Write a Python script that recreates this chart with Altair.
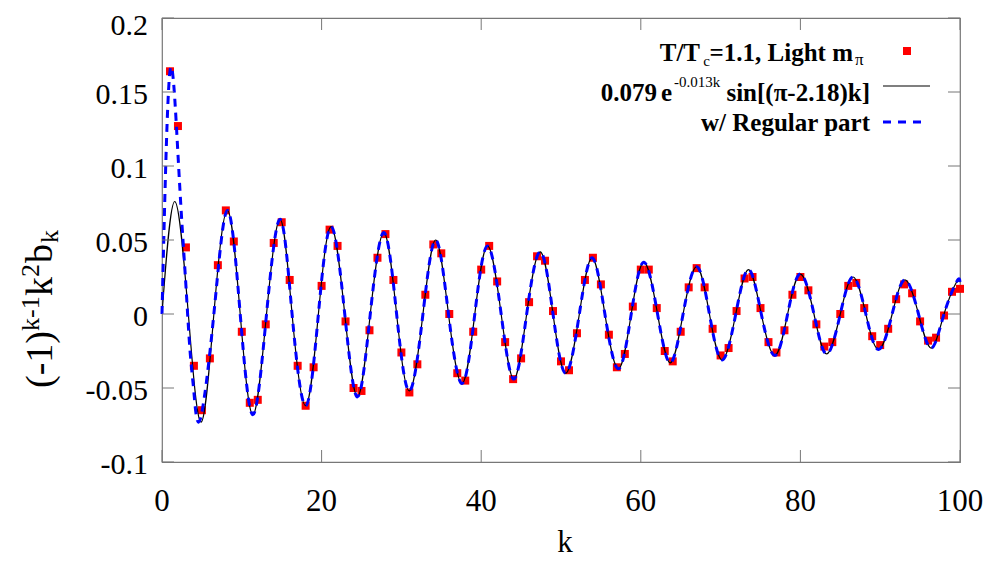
import altair as alt
import pandas as pd

# ---------------- data ----------------
red_k = list(range(1, 101))
red_v = [0.164, 0.127, 0.045, -0.035, -0.065, -0.030, 0.033, 0.070, 0.049, -0.012,
         -0.060, -0.058, -0.007, 0.048, 0.062, 0.023, -0.035, -0.062, -0.036, 0.019,
         0.057, 0.046, -0.005, -0.050, -0.052, -0.011, 0.038, 0.054, 0.023, -0.026,
         -0.053, -0.034, 0.013, 0.047, 0.041, 0.000, -0.040, -0.045, -0.012, 0.030,
         0.046, 0.022, -0.019, -0.044, -0.030, 0.008, 0.039, 0.036, 0.002, -0.032,
         -0.038, -0.013, 0.023, 0.038, 0.020, -0.014, -0.036, -0.027, 0.005, 0.030,
         0.030, 0.004, -0.025, -0.032, -0.012, 0.018, 0.031, 0.018, -0.010, -0.028,
         -0.023, 0.002, 0.024, 0.025, 0.004, -0.019, -0.026, -0.011, 0.013, 0.025,
         0.016, -0.007, -0.022, -0.019, 0.000, 0.019, 0.021, 0.004, -0.015, -0.021,
         -0.010, 0.010, 0.020, 0.014, -0.005, -0.018, -0.016, -0.001, 0.015, 0.017]

# fit curve: extrema and zero crossings
fit_k = [0, 1.6, 3.3, 4.9, 6.5, 8.2, 9.8, 11.4, 13.1, 14.8, 16.3, 18.0, 19.6, 21.2,
         22.9, 24.5, 26.1, 27.8, 29.4, 31.0, 32.7, 34.3, 35.9, 37.6, 39.2, 40.8,
         42.5, 44.1, 45.7, 47.4, 49.0, 50.6, 52.3, 53.9, 55.5, 57.2, 58.8, 60.4,
         62.1, 63.7, 65.3, 67.0, 68.6, 70.2, 71.9, 73.5, 75.1, 76.8, 78.4, 80.0,
         81.7, 83.3, 85.0, 86.6, 88.2, 89.8, 91.5, 93.1, 94.8, 96.4, 98.0, 99.6, 100]
fit_v = [0, 0.076, 0, -0.073, 0, 0.070, 0, -0.068, 0, 0.064, 0, -0.062, 0, 0.059,
         0, -0.056, 0, 0.055, 0, -0.052, 0, 0.050, 0, -0.047, 0, 0.046,
         0, -0.044, 0, 0.042, 0, -0.040, 0, 0.038, 0, -0.037, 0, 0.035,
         0, -0.033, 0, 0.032, 0, -0.031, 0, 0.030, 0, -0.028, 0, 0.027,
         0, -0.027, 0, 0.025, 0, -0.024, 0, 0.023, 0, -0.023, 0, 0.022, 0.0215]

# regular-part curve: its own start, then it follows the fit line
reg_start_k = [0, 0.5, 1.0, 1.5, 2.0, 2.5, 3.0, 3.5, 4.0, 4.8]
reg_start_v = [0, 0.106, 0.164, 0.153, 0.108, 0.061, 0.019, -0.024, -0.053, -0.071]

x_ticks = [0, 20, 40, 60, 80, 100]
x_labels = ["0", "20", "40", "60", "80", "100"]
y_ticks = [-0.1, -0.05, 0, 0.05, 0.1, 0.15, 0.2]
y_labels = ["-0.1", "-0.05", "0", "0.05", "0.1", "0.15", "0.2"]

# ---------------- layout ----------------
W, H = 798, 444
FONT = "Liberation Serif"

pts = pd.DataFrame({"k": red_k, "v": red_v})
fit = pd.DataFrame({"k": fit_k, "v": fit_v})
reg_k = reg_start_k + [k for k in fit_k if k >= 6.5]
reg_v = reg_start_v + [v for k, v in zip(fit_k, fit_v) if k >= 6.5]
reg = pd.DataFrame({"k": reg_k, "v": reg_v})

xs = alt.Scale(domain=[0, 100], nice=False, zero=False)
ys = alt.Scale(domain=[-0.1, 0.2], nice=False, zero=False)

points = alt.Chart(pts).mark_square(size=64, color="#ff0000", opacity=1).encode(
    x=alt.X("k:Q", scale=xs, axis=None),
    y=alt.Y("v:Q", scale=ys, axis=None),
)
fit_line = alt.Chart(fit).mark_line(color="black", strokeWidth=1.2, interpolate="natural").encode(
    x=alt.X("k:Q", scale=xs, axis=None), y=alt.Y("v:Q", scale=ys, axis=None))
reg_line = alt.Chart(reg).mark_line(color="#0000ff", strokeWidth=3, strokeDash=[8, 6],
                                    interpolate="natural").encode(
    x=alt.X("k:Q", scale=xs, axis=None), y=alt.Y("v:Q", scale=ys, axis=None))

TICK = 12
yt = pd.DataFrame({"v": y_ticks, "lab": y_labels})
xt = pd.DataFrame({"k": x_ticks, "lab": x_labels})
tick_col = "#777777"
yl = alt.Chart(yt).mark_rule(color=tick_col).encode(
    y=alt.Y("v:Q", scale=ys, axis=None), x=alt.value(0), x2=alt.value(TICK))
yr = alt.Chart(yt).mark_rule(color=tick_col).encode(
    y=alt.Y("v:Q", scale=ys, axis=None), x=alt.value(W - TICK), x2=alt.value(W))
xb = alt.Chart(xt).mark_rule(color=tick_col).encode(
    x=alt.X("k:Q", scale=xs, axis=None), y=alt.value(H - TICK), y2=alt.value(H))
xtp = alt.Chart(xt).mark_rule(color=tick_col).encode(
    x=alt.X("k:Q", scale=xs, axis=None), y=alt.value(0), y2=alt.value(TICK))

LAB = 30
# top label nudged down a little so it stays inside the page
ylab = alt.Chart(yt).mark_text(font=FONT, fontSize=LAB, align="right", baseline="alphabetic",
                               dy=12, color="black").encode(
    y=alt.Y("v:Q", scale=ys, axis=None), x=alt.value(-14), text="lab:N"
).transform_filter("datum.v < 0.19")
ylab_top = alt.Chart(yt).mark_text(font=FONT, fontSize=LAB, align="right", baseline="alphabetic",
                                   dy=17, color="black").encode(
    y=alt.Y("v:Q", scale=ys, axis=None), x=alt.value(-14), text="lab:N"
).transform_filter("datum.v >= 0.19")
xlab = alt.Chart(xt).mark_text(font=FONT, fontSize=31, align="center", baseline="alphabetic",
                               color="black").encode(
    x=alt.X("k:Q", scale=xs, axis=None), y=alt.value(493), text="lab:N")

one = pd.DataFrame({"a": [0]})


def txt(s, x, y, size, align="right", weight="normal", angle=0):
    return alt.Chart(one).mark_text(text=s, font=FONT, fontSize=size, fontWeight=weight,
                                    align=align, baseline="alphabetic", angle=angle,
                                    color="black").encode(x=alt.value(x), y=alt.value(y))


xtitle = txt("k", 403, 534, 31, align="center")

LS = 25   # legend font size
SS = 15   # legend script size
legend = [
    txt("T/T", 538, 43, LS, weight="bold"),
    txt("c", 548, 48, SS),
    txt("=1.1, Light m", 691, 43, LS, weight="bold"),
    txt("π", 693, 47, SS + 2, align="left"),
    txt("0.079", 495, 83, LS, weight="bold"),
    txt("e", 510, 83, LS, weight="bold"),
    txt("-0.013k", 512, 69, SS, align="left"),
    txt("sin[(π-2.18)k]", 708, 83, LS, weight="bold"),
    txt("w/ Regular part", 708, 113, LS, weight="bold"),
]
leg_sq = alt.Chart(one).mark_square(size=64, color="#ff0000", opacity=1).encode(
    x=alt.value(745), y=alt.value(33))
leg_fit = alt.Chart(one).mark_rule(color="black", strokeWidth=1.2).encode(
    x=alt.value(721), x2=alt.value(768), y=alt.value(68))
leg_reg = alt.Chart(one).mark_rule(color="#0000ff", strokeWidth=3, strokeDash=[8, 7]).encode(
    x=alt.value(721), x2=alt.value(766), y=alt.value(104))

# y-axis title built from pieces, rotated
TS = 38
TSS = 26
bx = -110
ytitle = [
    txt("(-1)", bx, 370, TS, align="left", angle=270),
    txt("k-1", bx - 13, 313, TSS, align="left", angle=270),
    txt("k", bx, 278, TS, align="left", angle=270),
    txt("2", bx - 13, 259, TSS, align="left", angle=270),
    txt("b", bx, 245, TS, align="left", angle=270),
    txt("k", bx + 6, 225, TSS, align="left", angle=270),
]

chart = alt.layer(points, fit_line, reg_line, yl, yr, xb, xtp, ylab, ylab_top, xlab, xtitle,
                  leg_sq, leg_fit, leg_reg, *legend, *ytitle).properties(
    width=W, height=H,
    autosize=alt.AutoSizeParams(type="none"),
    padding={"left": 154, "top": 10, "right": 39, "bottom": 98},
).configure_view(stroke="#777777", strokeWidth=1.2)

chart.save("out.html", embed_options={"renderer": "svg", "actions": False})
